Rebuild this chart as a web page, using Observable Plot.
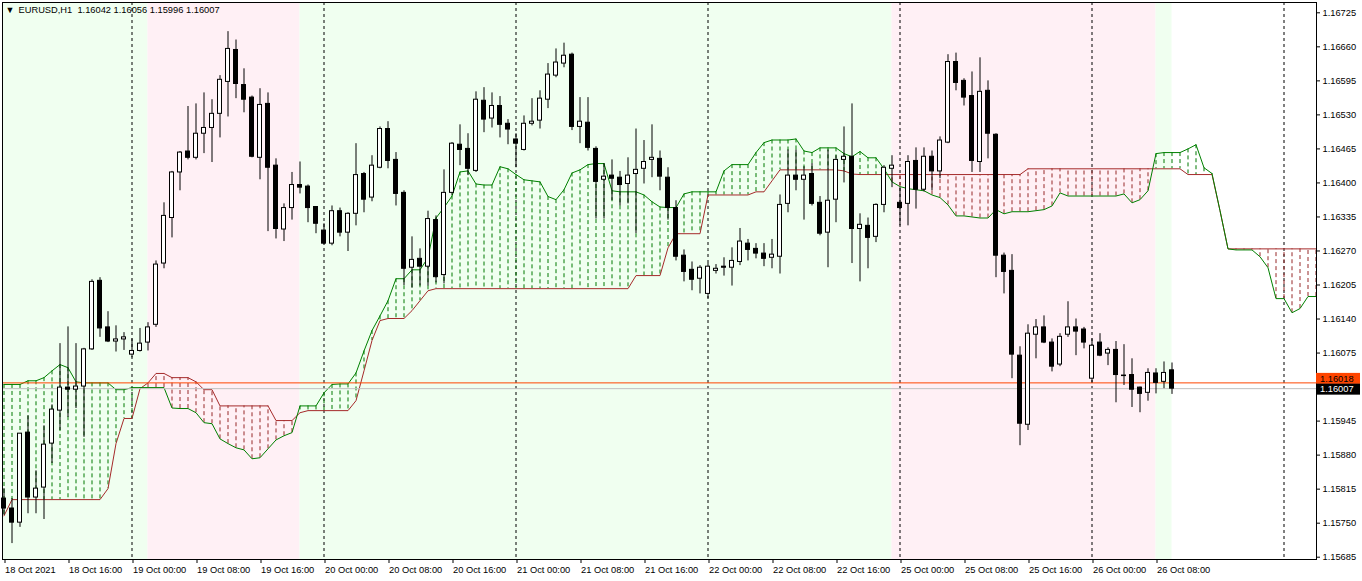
<!DOCTYPE html>
<html><head><meta charset="utf-8">
<script src="https://cdn.jsdelivr.net/npm/d3@7"></script>
<script src="https://cdn.jsdelivr.net/npm/@observablehq/plot@0.6"></script>
<style>
html,body{margin:0;padding:0;background:#fff;}
#chart svg{display:block;}
</style></head><body><div id="chart"></div>
<script>
// ---- data (EURUSD H1, bar 0 = 18 Oct 2021 08:00) ----
const openP = [1.15797,1.15778,1.15751,1.15923,1.15799,1.15818,1.15902,1.15965,1.16009,1.16005,
1.16011,1.16082,1.16213,1.16124,1.16097,1.16101,1.16072,1.16079,1.16095,1.16129,
1.16246,1.16333,1.16420,1.16460,1.16448,1.16494,1.16505,1.16532,1.16593,1.16654,
1.16587,1.16563,1.16448,1.16551,1.16433,1.16311,1.16352,1.16396,1.16393,1.16354,
1.16309,1.16284,1.16346,1.16305,1.16341,1.16417,1.16372,1.16429,1.16503,1.16444,
1.16381,1.16238,1.16255,1.16240,1.16329,1.16224,1.16381,1.16473,1.16465,1.16423,
1.16557,1.16523,1.16547,1.16513,1.16483,1.16463,1.16513,1.16519,1.16559,1.16605,
1.16628,1.16645,1.16507,1.16515,1.16465,1.16406,1.16414,1.16410,1.16398,1.16417,
1.16427,1.16444,1.16446,1.16410,1.16352,1.16261,1.16234,1.16217,1.16188,1.16232,
1.16240,1.16238,1.16249,1.16284,1.16274,1.16265,1.16257,1.16259,1.16360,1.16414,
1.16406,1.16417,1.16362,1.16305,1.16368,1.16444,1.16450,1.16312,1.16318,1.16297,
1.16358,1.16427,1.16362,1.16360,1.16442,1.16387,1.16450,1.16422,1.16477,1.16631,
1.16595,1.16566,1.16440,1.16576,1.16492,1.16261,1.16232,1.16070,1.15938,1.16110,
1.16124,1.16095,1.16053,1.16110,1.16124,1.16120,1.16026,1.16095,1.16074,1.16081,
1.16032,1.16033,1.16009,1.15999,1.16036,1.16020,1.16042];
const highP = [1.15816,1.15797,1.15921,1.15955,1.15850,1.15936,1.15976,1.16093,1.16125,1.16093,
1.16084,1.16215,1.16219,1.16154,1.16127,1.16114,1.16102,1.16122,1.16133,1.16251,
1.16362,1.16422,1.16460,1.16546,1.16551,1.16572,1.16559,1.16605,1.16689,1.16673,
1.16618,1.16566,1.16580,1.16572,1.16446,1.16360,1.16420,1.16440,1.16396,1.16354,
1.16322,1.16356,1.16352,1.16343,1.16475,1.16420,1.16452,1.16507,1.16517,1.16458,
1.16385,1.16297,1.16274,1.16346,1.16337,1.16425,1.16477,1.16511,1.16494,1.16574,
1.16582,1.16572,1.16565,1.16521,1.16494,1.16528,1.16561,1.16576,1.16628,1.16656,
1.16667,1.16648,1.16563,1.16563,1.16469,1.16437,1.16444,1.16422,1.16448,1.16503,
1.16481,1.16511,1.16461,1.16429,1.16366,1.16272,1.16249,1.16242,1.16246,1.16244,
1.16257,1.16276,1.16313,1.16292,1.16284,1.16284,1.16292,1.16377,1.16463,1.16463,
1.16431,1.16437,1.16374,1.16463,1.16452,1.16507,1.16551,1.16341,1.16333,1.16360,
1.16433,1.16452,1.16391,1.16452,1.16467,1.16467,1.16461,1.16488,1.16645,1.16648,
1.16599,1.16612,1.16639,1.16595,1.16494,1.16266,1.16263,1.16087,1.16129,1.16139,
1.16146,1.16102,1.16112,1.16173,1.16140,1.16124,1.16102,1.16112,1.16085,1.16097,
1.16091,1.16064,1.16010,1.16045,1.16045,1.16058,1.16056];
const lowP = [1.15765,1.15711,1.15742,1.15768,1.15768,1.15757,1.15864,1.15927,1.15952,1.15969,
1.15914,1.16080,1.16105,1.16095,1.16077,1.16080,1.16066,1.16077,1.16079,1.16124,
1.16236,1.16295,1.16385,1.16444,1.16444,1.16456,1.16439,1.16486,1.16526,1.16561,
1.16534,1.16448,1.16406,1.16307,1.16293,1.16288,1.16329,1.16379,1.16324,1.16303,
1.16282,1.16280,1.16297,1.16269,1.16318,1.16343,1.16364,1.16427,1.16427,1.16356,
1.16204,1.16199,1.16203,1.16203,1.16209,1.16207,1.16376,1.16433,1.16414,1.16420,
1.16496,1.16505,1.16486,1.16473,1.16429,1.16461,1.16509,1.16503,1.16542,1.16601,
1.16620,1.16500,1.16475,1.16461,1.16331,1.16331,1.16366,1.16356,1.16360,1.16303,
1.16398,1.16410,1.16385,1.16329,1.16251,1.16211,1.16194,1.16188,1.16179,1.16226,
1.16222,1.16203,1.16242,1.16251,1.16255,1.16240,1.16236,1.16226,1.16343,1.16385,
1.16329,1.16356,1.16299,1.16238,1.16324,1.16400,1.16246,1.16211,1.16236,1.16286,
1.16343,1.16391,1.16318,1.16318,1.16350,1.16383,1.16385,1.16408,1.16475,1.16576,
1.16547,1.16420,1.16420,1.16446,1.16219,1.16188,1.16026,1.15898,1.15927,1.16064,
1.16093,1.16039,1.16049,1.16105,1.16070,1.16083,1.16018,1.16068,1.16051,1.15980,
1.16013,1.15971,1.15961,1.15983,1.15997,1.16007,1.15996];
const closeP = [1.15778,1.15751,1.15921,1.15799,1.15816,1.15900,1.15967,1.16009,1.16005,1.16011,
1.16082,1.16211,1.16122,1.16097,1.16101,1.16105,1.16079,1.16093,1.16124,1.16244,
1.16337,1.16420,1.16458,1.16448,1.16494,1.16505,1.16532,1.16597,1.16656,1.16589,
1.16559,1.16450,1.16549,1.16429,1.16312,1.16352,1.16396,1.16391,1.16352,1.16322,
1.16284,1.16346,1.16305,1.16341,1.16415,1.16368,1.16433,1.16503,1.16442,1.16379,
1.16236,1.16253,1.16240,1.16331,1.16220,1.16381,1.16475,1.16463,1.16427,1.16559,
1.16521,1.16547,1.16511,1.16502,1.16475,1.16513,1.16517,1.16561,1.16607,1.16630,
1.16643,1.16507,1.16517,1.16467,1.16402,1.16412,1.16408,1.16396,1.16414,1.16425,
1.16440,1.16448,1.16412,1.16352,1.16259,1.16230,1.16215,1.16238,1.16240,1.16236,
1.16238,1.16251,1.16288,1.16272,1.16265,1.16255,1.16263,1.16358,1.16414,1.16406,
1.16414,1.16360,1.16303,1.16366,1.16444,1.16450,1.16312,1.16320,1.16295,1.16358,
1.16429,1.16433,1.16352,1.16440,1.16387,1.16450,1.16422,1.16481,1.16631,1.16591,
1.16563,1.16442,1.16574,1.16494,1.16261,1.16230,1.16072,1.15940,1.16112,1.16124,
1.16095,1.16049,1.16106,1.16124,1.16116,1.16095,1.16089,1.16070,1.16081,1.16033,
1.16031,1.16005,1.15997,1.16037,1.16018,1.16037,1.16007];

// Ichimoku cloud (Senkou Span A / B), bars 0..164 (shifted 26 bars forward)
const spanA = [1.16015,1.16015,1.16015,1.16022,1.16022,1.16028,1.16041,1.16053,1.16047,1.16020,
1.16018,1.16018,1.16018,1.16018,1.16005,1.16005,1.16009,1.16009,1.16009,1.16009,
1.16009,1.15970,1.15969,1.15969,1.15961,1.15942,1.15940,1.15911,1.15902,1.15894,
1.15890,1.15873,1.15875,1.15892,1.15909,1.15917,1.15923,1.15974,1.15974,1.15974,
1.15999,1.16015,1.16016,1.16016,1.16037,1.16079,1.16118,1.16146,1.16175,1.16217,
1.16217,1.16234,1.16234,1.16257,1.16333,1.16353,1.16375,1.16421,1.16423,1.16398,
1.16396,1.16396,1.16431,1.16427,1.16416,1.16406,1.16404,1.16402,1.16374,1.16368,
1.16387,1.16419,1.16425,1.16435,1.16437,1.16437,1.16385,1.16383,1.16383,1.16383,
1.16377,1.16364,1.16354,1.16353,1.16353,1.16379,1.16383,1.16383,1.16383,1.16383,
1.16423,1.16435,1.16435,1.16435,1.16458,1.16477,1.16482,1.16482,1.16482,1.16484,
1.16461,1.16458,1.16467,1.16467,1.16467,1.16456,1.16450,1.16460,1.16448,1.16448,
1.16427,1.16402,1.16393,1.16389,1.16387,1.16385,1.16377,1.16372,1.16358,1.16337,
1.16337,1.16335,1.16333,1.16333,1.16349,1.16341,1.16345,1.16345,1.16345,1.16347,
1.16349,1.16356,1.16381,1.16375,1.16375,1.16375,1.16375,1.16375,1.16375,1.16375,
1.16379,1.16362,1.16368,1.16385,1.16456,1.16458,1.16458,1.16458,1.16465,1.16473,
1.16429,1.16418,1.16347,1.16274,1.16272,1.16272,1.16272,1.16259,1.16238,1.16179,
1.16179,1.16152,1.16160,1.16183,1.16183];
const spanB = [1.15764,1.15795,1.15795,1.15795,1.15795,1.15795,1.15795,1.15795,1.15795,1.15795,
1.15795,1.15795,1.15795,1.15816,1.15902,1.15950,1.15950,1.16007,1.16018,1.16036,
1.16036,1.16028,1.16028,1.16028,1.16020,1.16005,1.16005,1.15974,1.15974,1.15974,
1.15974,1.15974,1.15974,1.15974,1.15946,1.15946,1.15946,1.15961,1.15965,1.15965,
1.15965,1.15965,1.15965,1.15965,1.15984,1.16041,1.16099,1.16137,1.16141,1.16141,
1.16141,1.16156,1.16175,1.16194,1.16198,1.16198,1.16198,1.16198,1.16198,1.16198,
1.16198,1.16198,1.16198,1.16198,1.16198,1.16198,1.16198,1.16198,1.16198,1.16198,
1.16198,1.16198,1.16198,1.16198,1.16198,1.16198,1.16198,1.16198,1.16198,1.16223,
1.16223,1.16223,1.16223,1.16276,1.16303,1.16303,1.16303,1.16303,1.16377,1.16377,
1.16377,1.16377,1.16377,1.16377,1.16383,1.16383,1.16404,1.16425,1.16425,1.16425,
1.16425,1.16425,1.16425,1.16425,1.16425,1.16423,1.16417,1.16416,1.16416,1.16416,
1.16416,1.16416,1.16416,1.16416,1.16416,1.16416,1.16416,1.16416,1.16416,1.16416,
1.16416,1.16416,1.16416,1.16416,1.16416,1.16416,1.16416,1.16416,1.16427,1.16427,
1.16427,1.16427,1.16427,1.16427,1.16427,1.16427,1.16427,1.16427,1.16427,1.16427,
1.16427,1.16427,1.16427,1.16427,1.16427,1.16427,1.16427,1.16427,1.16416,1.16416,
1.16416,1.16416,1.16347,1.16274,1.16274,1.16274,1.16274,1.16274,1.16274,1.16274,
1.16274,1.16274,1.16274,1.16274,1.16274];

const priceTicks = [1.16725,1.16660,1.16595,1.16530,1.16465,1.16400,1.16335,1.16270,1.16205,
  1.16140,1.16075,1.15945,1.15880,1.15815,1.15750,1.15685];
const timeTickBars = [0,8,16,24,32,40,48,56,64,72,80,88,96,104,112,120,128,136,144];
const timeTickLabels = ["18 Oct 2021","18 Oct 16:00","19 Oct 00:00","19 Oct 08:00","19 Oct 16:00",
  "20 Oct 00:00","20 Oct 08:00","20 Oct 16:00","21 Oct 00:00","21 Oct 08:00","21 Oct 16:00",
  "22 Oct 00:00","22 Oct 08:00","22 Oct 16:00","25 Oct 00:00","25 Oct 08:00","25 Oct 16:00",
  "26 Oct 00:00","26 Oct 08:00"];
const daySeparatorBars = [16,40,64,88,112,136,160];
const zoneFrom = [-0.1875,18,37,111,144];
const zoneTo   = [18,37,111,144,146];
const zoneKind = ["up","down","up","down","up"];
const headerSymbol = "EURUSD,H1";
const headerOHLC = ["1.16042","1.16056","1.15996","1.16007"];
const hlinePrice = 1.16018;
const bidPrice = 1.16007;

// ---- build tables ----
const candles = openP.map((o,i)=>({i,o,h:highP[i],l:lowP[i],c:closeP[i],up:closeP[i]>=o}));
const cloud = spanA.map((a,i)=>({i,a,b:spanB[i]}));
const zones = zoneFrom.map((x1,k)=>({x1,x2:zoneTo[k],kind:zoneKind[k]}));
const yBot = 1.156806, yTop = 1.167447;
const FONT = "'Liberation Sans', Arial, sans-serif";

const plot = Plot.plot({
  width:1362, height:581,
  marginLeft:2, marginRight:46, marginTop:2, marginBottom:22,
  x:{type:"linear", domain:[-0.1875,164.0625], label:null},
  y:{type:"linear", domain:[yBot,yTop], label:null},
  style:{fontFamily:FONT, fontSize:"9.3px", color:"#000", background:"#fff", overflow:"visible"},
  marks:[
    Plot.rect(zones,{x1:"x1",x2:"x2",y1:yBot,y2:yTop,fill:d=>d.kind==="up"?"#F0FFF0":"#FFF0F5"}),
    Plot.ruleX(daySeparatorBars,{x:d=>d,stroke:"#000",strokeDasharray:"3,3",strokeWidth:1}),
    Plot.ruleX(cloud.filter(d=>Math.abs(d.a-d.b)>1e-7),{x:"i",y1:"a",y2:"b",
      stroke:d=>d.a>d.b?"#007800":"#962828",strokeDasharray:"4,3",strokeWidth:1,clip:true}),
    Plot.line(cloud,{x:"i",y:"b",stroke:"#A52A2A",strokeWidth:1,clip:true}),
    Plot.line(cloud,{x:"i",y:"a",stroke:"#008000",strokeWidth:1,clip:true}),
    Plot.ruleY([hlinePrice],{stroke:"#FF4500",strokeWidth:1}),
    Plot.ruleY([bidPrice],{stroke:"#C0C0C0",strokeWidth:1}),
    Plot.ruleX(candles,{x:"i",y1:"l",y2:"h",stroke:"#000",strokeWidth:1}),
    Plot.rect(candles,{x1:d=>d.i-0.25,x2:d=>d.i+0.25,y1:"o",y2:"c",
      fill:d=>d.up?"#fff":"#000",stroke:"#000",strokeWidth:1}),
    Plot.frame({stroke:"#000"}),
    Plot.axisY(priceTicks,{anchor:"right",tickSize:3,tickPadding:3,tickFormat:d=>d.toFixed(5),fill:"#000"}),
    Plot.axisX(timeTickBars,{anchor:"bottom",tickSize:4,tickPadding:3,textAnchor:"start",dx:1,
      tickFormat:d=>timeTickLabels[timeTickBars.indexOf(d)],fill:"#000"}),
    Plot.text(["\u25BC"],{frameAnchor:"top-left",dx:3,dy:8,lineAnchor:"middle",textAnchor:"start",fontSize:9,fill:"#000"}),
    Plot.text([headerSymbol+"\u00A0\u00A0"+headerOHLC.join(" ")],{frameAnchor:"top-left",dx:16,dy:8,
      lineAnchor:"middle",textAnchor:"start",fill:"#000"})
  ]
});
document.getElementById("chart").appendChild(plot);

// price labels on the right axis (positioned with the plot's y scale)
const ys = plot.scale("y");
const svg = d3.select(plot);
function priceLabel(p, bg, fg, shift){
  const y = ys.apply(p) + shift;
  const g = svg.append("g");
  g.append("rect").attr("x",1316).attr("y",y-5.5).attr("width",44).attr("height",11).attr("fill",bg);
  g.append("text").attr("x",1320).attr("y",y).attr("dy","0.35em").attr("fill",fg)
    .attr("text-anchor","start")
    .attr("font-family",FONT).attr("font-size","9.3px").text(p.toFixed(5));
}
priceLabel(hlinePrice,"#FF4500","#000",-4);
priceLabel(bidPrice,"#000","#fff",1);
</script></body></html>
